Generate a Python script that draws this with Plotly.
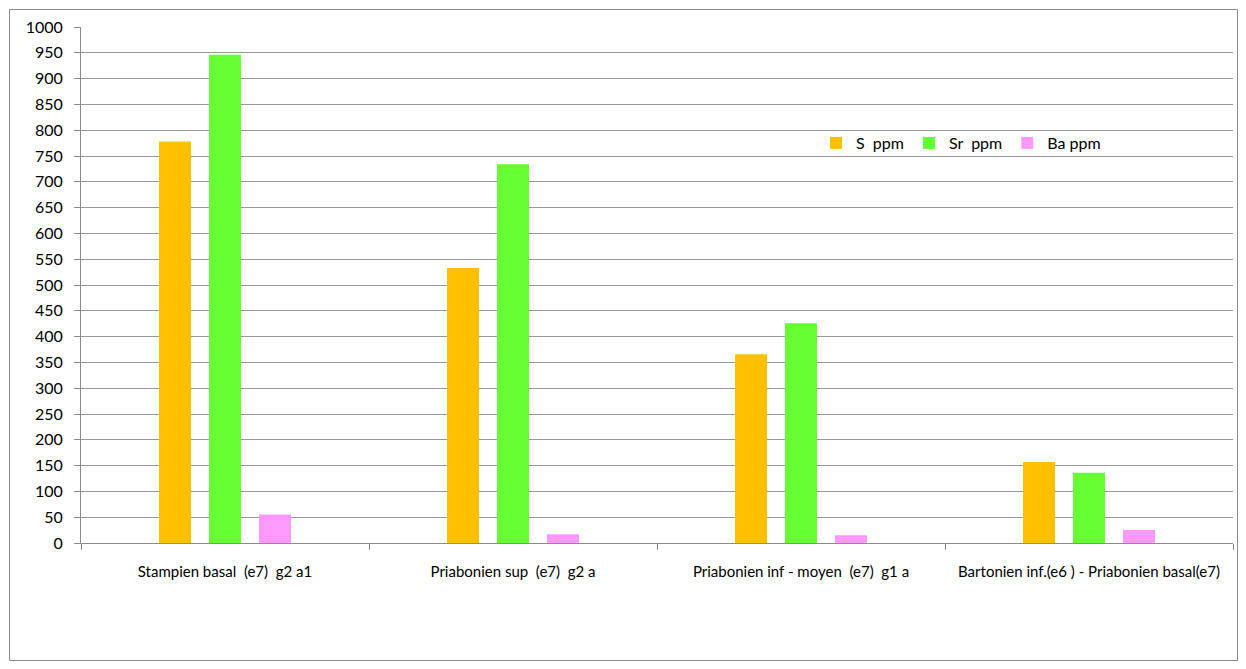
import plotly.graph_objects as go

categories = ["Stampien basal  (e7)  g2 a1", "Priabonien sup  (e7)  g2 a",
              "Priabonien inf - moyen  (e7)  g1 a", "Bartonien inf.(e6 ) - Priabonien basal(e7)"]
s_ppm = [778, 533, 366, 157]
sr_ppm = [946, 734, 426, 136]
ba_ppm = [55, 17, 15, 25]
series_names = ["S\u00a0\u00a0ppm", "Sr\u00a0\u00a0ppm", "Ba ppm"]
colors = ["#FFC000", "#66FF33", "#FF99FF"]

cat_labels = [c.replace("  ", "\u00a0\u00a0") for c in categories]

fig = go.Figure()
for name, vals, col in zip(series_names, [s_ppm, sr_ppm, ba_ppm], colors):
    fig.add_trace(go.Bar(x=cat_labels, y=vals, name=name, marker=dict(color=col, line=dict(width=0))))

# page is offset by 8px body margin
W, H = 1230, 653
L, T = 73, 19
PR, PB = 1225, 535
pw, ph = PR - L, PB - T

def px(x):
    return (x - L) / pw

def py(y):
    return (PB - y) / ph

fig.update_layout(
    width=W, height=H,
    margin=dict(l=L, r=W - PR, t=T, b=H - PB, autoexpand=False),
    paper_bgcolor="white", plot_bgcolor="white",
    barmode="group", bargap=0.479, bargroupgap=0.36,
    font=dict(family="Lato, Open Sans, sans-serif", color="black"),
    showlegend=True,
    legend=dict(orientation="h", x=px(808), y=py(135), xanchor="left", yanchor="middle",
                bgcolor="rgba(0,0,0,0)", font=dict(size=16), itemwidth=30, traceorder="normal"),
    xaxis=dict(type="category", showgrid=False, showline=True, linecolor="#8c8c8c", linewidth=1,
               ticks="outside", tickson="boundaries", ticklen=6, tickcolor="#8c8c8c",
               tickfont=dict(size=15), ticklabelstandoff=15, fixedrange=True),
    yaxis=dict(range=[0, 1000], dtick=50, tick0=0, showgrid=True, gridcolor="#999999", gridwidth=1,
               showline=True, linecolor="#8c8c8c", linewidth=1, ticks="outside", ticklen=6,
               tickcolor="#8c8c8c", tickfont=dict(size=16), ticklabelstandoff=8,
               zeroline=False, fixedrange=True),
    shapes=[dict(type="rect", xref="paper", yref="paper",
                 x0=px(1.5), x1=px(1229.5), y0=py(652.5), y1=py(1.5),
                 line=dict(color="#8c8c8c", width=1), fillcolor="rgba(0,0,0,0)", layer="below")],
)

fig.write_html("out.html")
